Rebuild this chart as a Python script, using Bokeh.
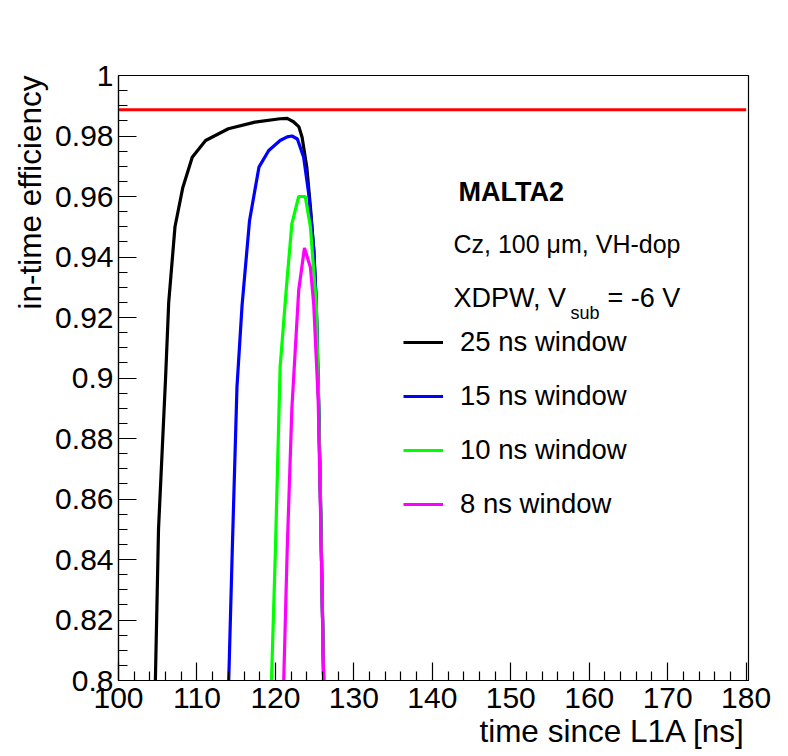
from bokeh.plotting import figure
from bokeh.models import (Range1d, FixedTicker, Label, Legend, LegendItem,
                          CustomJSTickFormatter, Title)
from bokeh.embed import file_html
from bokeh.resources import INLINE

# ---- data ----
t25 = [104.7, 105.1, 106.0, 106.4, 107.2, 108.2, 109.4, 111.1, 114.0, 117.4,
       120.6, 121.5, 122.3, 123.0, 123.4, 124.0, 124.5, 124.9, 125.2, 125.5,
       125.73, 126.15]
e25 = [0.800, 0.850, 0.900, 0.925, 0.950, 0.963, 0.973, 0.9785, 0.9824, 0.9846,
       0.9857, 0.9858, 0.9847, 0.9830, 0.9796, 0.9697, 0.9554, 0.9420, 0.9250, 0.8930,
       0.8620, 0.800]

t15 = [114.05, 114.5, 115.1, 115.75, 116.7, 117.9, 119.15, 120.6, 121.5, 122.1,
       122.8, 123.6, 124.24, 124.6, 124.9, 125.2, 125.5, 125.73, 126.15]
e15 = [0.800, 0.843, 0.897, 0.924, 0.952, 0.9697, 0.9752, 0.9785, 0.9797, 0.9800,
       0.9790, 0.9730, 0.9610, 0.9510, 0.9420, 0.9250, 0.8930, 0.8620, 0.800]

t10 = [119.5, 120.0, 120.6, 121.27, 121.5, 122.1, 122.97, 123.8, 124.46, 124.88,
       125.2, 125.5, 125.73, 126.15]
e10 = [0.800, 0.843, 0.9036, 0.9256, 0.933, 0.951, 0.960, 0.960, 0.950, 0.9355,
       0.9250, 0.8930, 0.8620, 0.800]

t8 = [121.06, 121.5, 122.1, 122.97, 123.7, 124.46, 124.88, 125.45, 125.7, 126.15]
e8 = [0.800, 0.843, 0.890, 0.929, 0.943, 0.9366, 0.9245, 0.893, 0.862, 0.800]

ref_x = [100.0, 180.0]
ref_y = [0.9887, 0.9887]

series_labels = ["25 ns window", "15 ns window", "10 ns window", "8 ns window"]
series_colors = ["#000000", "#0000ff", "#00ff00", "#ff00ff"]

x_title = "time since L1A [ns]"
y_title = "in-time efficiency"

x_major = [100, 110, 120, 130, 140, 150, 160, 170, 180]
x_minor = [102, 104, 106, 108, 112, 114, 116, 118, 122, 124, 126, 128,
           132, 134, 136, 138, 142, 144, 146, 148, 152, 154, 156, 158,
           162, 164, 166, 168, 172, 174, 176, 178]
y_major = [0.80, 0.82, 0.84, 0.86, 0.88, 0.90, 0.92, 0.94, 0.96, 0.98, 1.00]
y_minor = [0.805, 0.81, 0.815, 0.825, 0.83, 0.835, 0.845, 0.85, 0.855,
           0.865, 0.87, 0.875, 0.885, 0.89, 0.895, 0.905, 0.91, 0.915,
           0.925, 0.93, 0.935, 0.945, 0.95, 0.955, 0.965, 0.97, 0.975,
           0.985, 0.99, 0.995]

FONT = "Liberation Sans"

p = figure(frame_width=630, frame_height=605,
           min_border_left=118, min_border_right=36,
           min_border_top=75, min_border_bottom=72,
           x_range=Range1d(100, 180.3), y_range=Range1d(0.8, 1.0),
           output_backend="svg", toolbar_location=None,
           background_fill_color="white", border_fill_color="white")
p.xgrid.visible = False
p.ygrid.visible = False
p.outline_line_color = "black"
p.outline_line_width = 1.2
p.outline_line_alpha = 1.0

for ax in (p.xaxis[0], p.yaxis[0]):
    ax.major_tick_in = 18
    ax.major_tick_out = 0
    ax.minor_tick_in = 9
    ax.minor_tick_out = 0
    ax.axis_line_width = 1.2
    ax.major_tick_line_width = 1.2
    ax.minor_tick_line_width = 1.2
    ax.major_label_text_font = FONT
    ax.major_label_text_font_size = "30px"
    ax.major_label_text_color = "black"
    ax.axis_label = None

p.xaxis[0].ticker = FixedTicker(ticks=x_major, minor_ticks=x_minor)
p.yaxis[0].ticker = FixedTicker(ticks=y_major, minor_ticks=y_minor)
p.xaxis[0].major_label_standoff = 7
p.yaxis[0].major_label_standoff = 5
p.yaxis[0].formatter = CustomJSTickFormatter(
    code="return (Math.round(tick*1000)/1000).toString();")

p.line(ref_x, ref_y, line_color="#ff0000", line_width=3)

renderers = []
for xs, ys, col in zip([t25, t15, t10, t8], [e25, e15, e10, e8], series_colors):
    r = p.line(xs, ys, line_color=col, line_width=3.2)
    renderers.append(r)

legend = Legend(items=[LegendItem(label=lab, renderers=[r])
                       for lab, r in zip(series_labels, renderers)],
                location=(285, 149), glyph_width=40, glyph_height=54,
                label_height=54, spacing=0, padding=0, margin=0,
                label_standoff=17, label_text_font=FONT,
                label_text_font_size="27.5px", label_text_color="black",
                border_line_color=None, background_fill_alpha=0)
p.add_layout(legend, "center")


def lab(text, x, y, size, style="normal"):
    p.add_layout(Label(x=x, y=y, x_units="screen", y_units="screen",
                       text=text, text_font=FONT, text_font_size=size,
                       text_font_style=style, text_align="left",
                       text_baseline="alphabetic", text_color="black"))


lab("MALTA2", 340, 489, "27px", style="bold")
lab("Cz, 100 \u03bcm, VH-dop", 335, 437, "25px")
lab("XDPW, V", 335, 383, "27px")
lab("sub", 452, 368, "18px")
lab("= -6 V", 489, 383, "27px")

title_props = Title.properties()


def axis_title(text, side, offset, standoff):
    kw = dict(text=text, align="right", text_font=FONT, text_font_size="31.5px",
              text_font_style="normal", text_color="black", offset=offset)
    if "standoff" in title_props:
        kw["standoff"] = standoff
    p.add_layout(Title(**kw), side)


axis_title(x_title, "below", 3, 0)
axis_title(y_title, "left", 0, 10)

open("out.html", "w").write(file_html(p, INLINE))
